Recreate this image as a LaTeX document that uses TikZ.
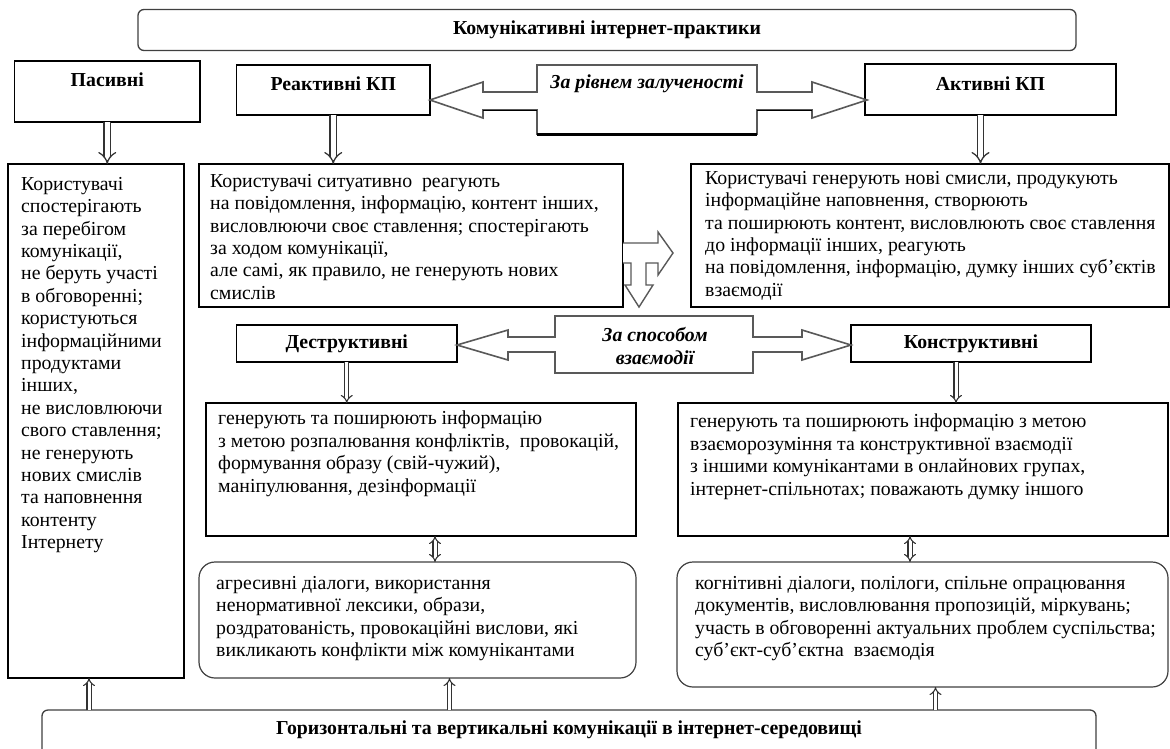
\documentclass[tikz,border=0pt]{standalone}
\usepackage{fontspec}
\setmainfont{Liberation Serif}
\usetikzlibrary{arrows.meta,calc}

\tikzset{
  txtfont/.style={font=\fontsize{19.8}{22.4}\selectfont},
  sqbox/.style={draw=black, line width=1.8pt, fill=white, inner sep=0pt, outer sep=0pt, anchor=north west},
  rndbox/.style={draw=black!75, line width=1.2pt, fill=white, rounded corners=16pt, inner sep=0pt, outer sep=0pt, anchor=north west},
  framebox/.style={draw=black!75, line width=1.3pt, fill=white, rounded corners=6pt, inner sep=0pt, outer sep=0pt, anchor=north west},
  body/.style={txtfont, align=left, inner sep=0pt, anchor=north west, execute at begin node=\strut},
  head/.style={font=\fontsize{19.8}{22.4}\selectfont\bfseries, inner sep=0pt},
  calltext/.style={font=\fontsize{19.8}{22.4}\selectfont\bfseries\itshape, inner sep=0pt, align=center},
  callout/.style={draw=black!65, line width=1.6pt, fill=white, line join=miter},
  hollowbig/.style={draw=black!80, line width=1.3pt, double=white, double distance=5pt, -{Implies}},
  hollowsmall/.style={draw=black!80, line width=1.1pt, double=white, double distance=3pt, -{Implies}},
  hollowboth/.style={draw=black!80, line width=1.1pt, double=white, double distance=3pt, {Implies}-{Implies}},
}

\begin{document}
\begin{tikzpicture}[x=1pt,y=-1pt]
\useasboundingbox (0,0) rectangle (1170,748);
\fill[white] (0,0) rectangle (1170,748);
\clip (0,0) rectangle (1170,748);

% top frame
\node[framebox, head, minimum width=938pt, minimum height=41pt] (title) at (138,9.5) {Комунікативні інтернет-практики};

% heading boxes of the first level
\node[sqbox, minimum width=185.5pt, minimum height=61pt] (pas) at (14.5,61) {};
\node[sqbox, minimum width=193.5pt, minimum height=50pt] (rtitle) at (236.5,65) {};
\node[sqbox, minimum width=251pt, minimum height=51pt] (atitle) at (865,64) {};
\node[head] (pashead) at ([yshift=-19pt]pas.north) {Пасивні};
\node[head] (rhead) at ([yshift=-19pt]rtitle.north) {Реактивні КП};
\node[head] (ahead) at ([yshift=-20pt]atitle.north) {Активні КП};

% left-right callout: level of involvement
\draw[callout] (430,100) -- (483,82) -- (483,92) -- (537,92) -- (537,65) -- (757,65) -- (757,92)
  -- (812,92) -- (812,82) -- (867,100) -- (812,118) -- (812,110) -- (757,110) -- (757,134)
  -- (537,134) -- (537,110) -- (483,110) -- (483,118) -- cycle;
\draw[black, line width=2.6pt] (537,134.5) -- (757,134.5);
\draw[black, line width=1.8pt] (483,110.5) -- (537,110.5) (757,110.5) -- (812,110.5);
\node[calltext] (lvl) at (647,84) {За рівнем залученості};

% description boxes
\node[sqbox, minimum width=176pt, minimum height=514pt] (pdesc) at (8,164) {};
\node[sqbox, minimum width=424pt, minimum height=143pt] (rdesc) at (199,164) {};
\node[sqbox, minimum width=478pt, minimum height=143pt] (adesc) at (691,164) {};

\node[body] (ptext) at (21,177) {Користувачі\\спостерігають\\за перебігом\\комунікації,\\не беруть участі\\в обговоренні;\\користуються\\інформаційними\\продуктами\\інших,\\не висловлюючи\\свого ставлення;\\не генерують\\нових смислів\\та наповнення\\контенту\\Інтернету};
\node[body] (rtext) at (210,174) {Користувачі ситуативно\ \ реагують\\на повідомлення, інформацію, контент інших,\\висловлюючи своє ставлення; спостерігають\\за ходом комунікації,\\але самі, як правило, не генерують нових\\смислів};
\node[body] (atext) at (705,171) {Користувачі генерують нові смисли, продукують\\інформаційне наповнення, створюють\\та поширюють контент, висловлюють своє ставлення\\до інформації інших, реагують\\на повідомлення, інформацію, думку інших суб’єктів\\взаємодії};

% right-and-down arrow between the description boxes
\draw[callout, line width=1.4pt] (623,243) -- (658,243) -- (658,232) -- (673,253) -- (658,275) -- (658,263)
  -- (646,263) -- (646,285) -- (653,285) -- (639,307) -- (625,285) -- (631,285) -- (631,263) -- (623,263);

% heading boxes of the second level
\node[sqbox, head, minimum width=220.5pt, minimum height=37pt] (dtitle) at (236.5,325) {Деструктивні};
\node[sqbox, head, minimum width=240pt, minimum height=37pt] (ctitle) at (851,325) {Конструктивні};

% left-right callout: way of interaction
\draw[callout] (457,345) -- (508,330) -- (508,337) -- (555,337) -- (555,316) -- (753,316) -- (753,337)
  -- (802,337) -- (802,330) -- (851,345) -- (802,360) -- (802,352) -- (753,352) -- (753,373)
  -- (555,373) -- (555,352) -- (508,352) -- (508,360) -- cycle;
\node[calltext] (way) at (655,346) {За способом\\взаємодії};

% descriptions of the second level
\node[sqbox, minimum width=430pt, minimum height=133pt] (ddesc) at (206,403) {};
\node[sqbox, minimum width=490pt, minimum height=133pt] (cdesc) at (678,403) {};
\node[body] (dtext) at (218,411) {генерують та поширюють інформацію\\з метою розпалювання конфліктів,\ \ провокацій,\\формування образу (свій-чужий),\\маніпулювання, дезінформації};
\node[body] (ctext) at (690,414) {генерують та поширюють інформацію з метою\\взаєморозуміння та конструктивної взаємодії\\з іншими комунікантами в онлайнових групах,\\інтернет-спільнотах; поважають думку іншого};

% forms of communication
\node[rndbox, minimum width=437pt, minimum height=116pt] (agg) at (199,562) {};
\node[rndbox, minimum width=491pt, minimum height=125pt] (cog) at (677,562) {};
\node[body] (gtext) at (216,576) {агресивні діалоги, використання\\ненормативної лексики, образи,\\роздратованість, провокаційні вислови, які\\викликають конфлікти між комунікантами};
\node[body] (ktext) at (695,576) {когнітивні діалоги, полілоги, спільне опрацювання\\документів, висловлювання пропозицій, міркувань;\\участь в обговоренні актуальних проблем суспільства;\\суб’єкт-суб’єктна\ \ взаємодія};

% bottom frame
\node[framebox, minimum width=1054pt, minimum height=70pt] (base) at (42,710) {};
\node[head] (basehead) at ([yshift=-20pt]base.north) {Горизонтальні та вертикальні комунікації в інтернет-середовищі};

% arrows
\coordinate (aa) at ([xshift=-10pt]atitle.south);
\coordinate (cc) at ([xshift=-15pt]ctitle.south);
\coordinate (dd) at ([xshift=14pt]ddesc.south);
\coordinate (ee) at ([xshift=-13pt]cdesc.south);
\coordinate (pp) at ([xshift=-7pt]pdesc.south);
\coordinate (gg) at ([xshift=32pt]agg.south);
\coordinate (kk) at ([xshift=13pt]cog.south);

\draw[hollowbig] (pas.south) -- (pas.south |- pdesc.north);
\draw[hollowbig] (rtitle.south) -- (rtitle.south |- rdesc.north);
\draw[hollowbig] (aa) -- (aa |- adesc.north);
\draw[hollowsmall] (dtitle.south) -- (dtitle.south |- ddesc.north);
\draw[hollowsmall] (cc) -- (cc |- cdesc.north);
\draw[hollowboth] (dd) -- (dd |- agg.north);
\draw[hollowboth] (ee) -- (ee |- cog.north);
\draw[hollowsmall] (pp |- base.north) -- (pp);
\draw[hollowsmall] (gg |- base.north) -- (gg);
\draw[hollowsmall] (kk |- base.north) -- (kk);
\end{tikzpicture}
\end{document}
